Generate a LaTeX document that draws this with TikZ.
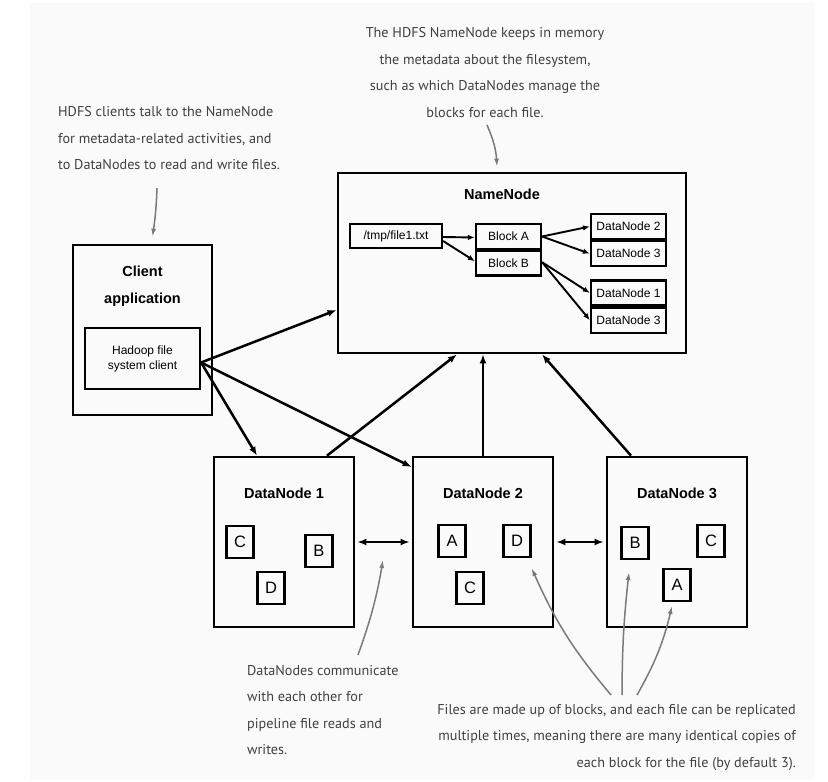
\documentclass[tikz,border=0pt]{standalone}
\usepackage{fontspec}
\setmainfont{Liberation Sans}
\newfontfamily\notefont{PT Sans}
\usetikzlibrary{arrows.meta}
\definecolor{Paper}{HTML}{FAFAFA}
\definecolor{Note}{HTML}{404040}
\definecolor{NoteArrow}{HTML}{7A7A7A}

\begin{document}
\begin{tikzpicture}[x=1pt,y=-1pt,>={Latex[length=9pt,width=7pt]},
  box/.style={draw,line width=2.7pt,inner sep=0pt},
  inbox/.style={draw,line width=2.2pt,inner sep=0pt,font=\fontsize{12}{15}\selectfont},
  blk/.style={draw,line width=2.2pt,minimum width=27pt,minimum height=32pt,inner sep=0pt,font=\fontsize{16.5}{16.5}\selectfont},
  title/.style={font=\fontsize{14.5}{27}\selectfont\bfseries,align=center},
  link/.style={->,line width=2.5pt},
  inlink/.style={-{Latex[length=7pt,width=5.5pt]},line width=1.9pt},
  note/.style={font=\notefont\fontsize{14.2}{26.5}\selectfont,text=Note,inner sep=0pt},
  notearrow/.style={-{Latex[length=8pt,width=5pt]},line width=1.5pt,draw=NoteArrow}]

\useasboundingbox (0,0) rectangle (828,782);
\fill[Paper] (30,3) rectangle (815,780);

% client
\node[box,minimum width=139pt,minimum height=170pt] (client) at (142.5,330) {};
\node[title] (clienttitle) at (142.5,286) {Client\\application};
\node[inbox,minimum width=115pt,minimum height=61pt,align=center] (hadoop) at (142.5,358.5) {Hadoop file\\system client};

% namenode
\node[box,minimum width=348pt,minimum height=180pt] (namenode) at (512,263) {};
\node[title] (nntitle) at (502,194) {NameNode};
\node[inbox,minimum width=92pt,minimum height=24pt] (file) at (396,236) {/tmp/file1.txt};
\node[inbox,minimum width=65pt,minimum height=24.5pt] (blocka) at (508.5,236.5) {Block A};
\node[inbox,minimum width=65pt,minimum height=24.5pt,anchor=north] (blockb) at (blocka.south) {Block B};
\node[inbox,minimum width=75pt,minimum height=25pt] (nn2) at (628.5,226.5) {DataNode 2};
\node[inbox,minimum width=75pt,minimum height=25pt,anchor=north] (nn3a) at (nn2.south) {DataNode 3};
\node[inbox,minimum width=75pt,minimum height=25pt] (nn1) at (628.5,293) {DataNode 1};
\node[inbox,minimum width=75pt,minimum height=25pt,anchor=north] (nn3b) at (nn1.south) {DataNode 3};

\draw[inlink] ([yshift=-1pt]file.east) -- ([yshift=-1pt]blocka.west);
\draw[inlink] ([yshift=-5pt]file.east) -- ([yshift=2pt]blockb.west);
\draw[inlink] (blocka.east) -- (nn2.west);
\draw[inlink] (blocka.east) -- (nn3a.west);
\draw[inlink] ([yshift=1pt]blockb.east) -- (nn1.west);
\draw[inlink] ([yshift=1pt]blockb.east) -- (nn3b.west);

% datanodes
\node[box,minimum width=140pt,minimum height=170pt] (dn1) at (284,542) {};
\node[title] (dn1title) at (284,493) {DataNode 1};
\node[blk] (d1c) at (240,542) {C};
\node[blk] (d1b) at (319,551) {B};
\node[blk] (d1d) at (271,588) {D};

\node[box,minimum width=140pt,minimum height=170pt] (dn2) at (483,542) {};
\node[title] (dn2title) at (483,493) {DataNode 2};
\node[blk] (d2a) at (452,541) {A};
\node[blk] (d2d) at (517,541) {D};
\node[blk] (d2c) at (470,588) {C};

\node[box,minimum width=140pt,minimum height=170pt] (dn3) at (677,542) {};
\node[title] (dn3title) at (677,493) {DataNode 3};
\node[blk] (d3b) at (635,543) {B};
\node[blk] (d3c) at (711,541) {C};
\node[blk] (d3a) at (677,585) {A};

\draw[link] ([yshift=-4pt]hadoop.east) -- ([yshift=-47pt]namenode.west);
\draw[link] ([yshift=-4pt]hadoop.east) -- ([xshift=-27pt]dn1.north);
\draw[link] ([yshift=-4pt]hadoop.east) -- ([yshift=75pt]dn2.west);
\draw[link] ([xshift=43pt]dn1.north) -- ([xshift=-55pt]namenode.south);
\draw[link] (dn2.north) -- (dn2.north |- namenode.south);
\draw[link] ([xshift=-46pt]dn3.north) -- ([xshift=30pt]namenode.south);
\draw[<->,line width=2.5pt,shorten <=2pt,shorten >=2pt] (dn1.east) -- (dn2.west);
\draw[<->,line width=2.5pt,shorten <=2pt,shorten >=2pt] (dn2.east) -- (dn3.west);

% notes
\node[note,anchor=west,align=left] (clientnote) at (58,138.5) {HDFS clients talk to the NameNode\\for metadata-related activities, and\\to DataNodes to read and write files.};
\coordinate (clienttail) at (157,188);
\draw[notearrow] (clienttail) to[bend left=3] ([xshift=10pt,yshift=7pt]client.north);

\node[note,align=center] (nnnote) at (485,72.5) {The HDFS NameNode keeps in memory\\the metadata about the filesystem,\\such as which DataNodes manage the\\blocks for each file.};
\coordinate (nntail) at (487,125);
\draw[notearrow] (nntail) to[bend left=10] ([xshift=-15pt,yshift=5pt]namenode.north);

\node[note,anchor=west,align=left] (dnnote) at (247,710) {DataNodes communicate\\with each other for\\pipeline file reads and\\writes.};
\coordinate (dntail) at (358,655);
\coordinate (dntip) at (383,560);
\draw[notearrow] (dntail) to[bend right=5] (dntip);

\node[note,anchor=east,align=right] (filenote) at (796,737.5) {Files are made up of blocks, and each file can be replicated\\multiple times, meaning there are many identical copies of\\each block for the file (by default 3).};
\coordinate (filetail1) at (611,695);
\coordinate (filetail2) at (622,695);
\coordinate (filetail3) at (637,695);
\draw[notearrow] (filetail1) to[bend left=8] ([yshift=-10pt]d2d.south east);
\draw[notearrow] (filetail2) to[bend left=3] ([xshift=-6pt,yshift=-12pt]d3b.south);
\draw[notearrow] (filetail3) to[bend right=8] ([xshift=-5pt,yshift=-4pt]d3a.south);

\end{tikzpicture}
\end{document}
